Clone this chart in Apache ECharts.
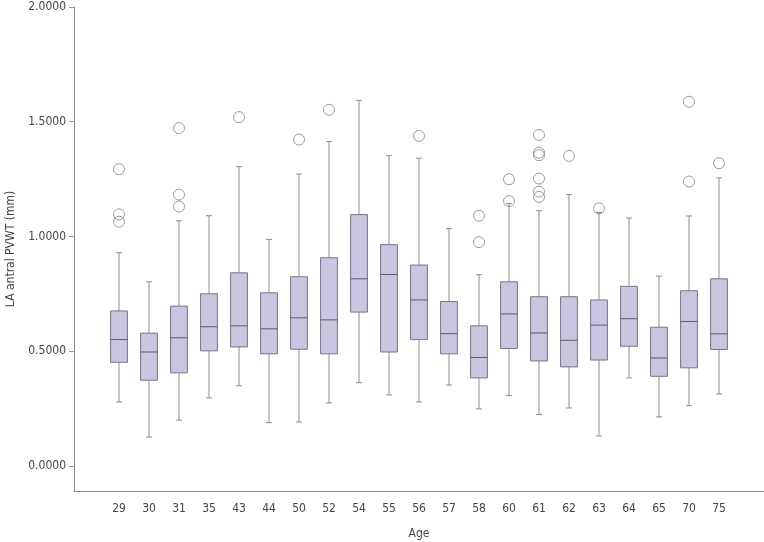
<!DOCTYPE html>
<html>
<head>
<meta charset="utf-8">
<script src="https://cdn.jsdelivr.net/npm/echarts@6/dist/echarts.min.js"></script>
<style>
  html, body { margin: 0; padding: 0; background: #fff; }
  #chart { width: 764px; height: 542px; }
</style>
</head>
<body>
<div id="chart"></div>
<script>
// ages on the x axis
const ages = ['29', '30', '31', '35', '43', '44', '50', '52', '54', '55', '56', '57', '58', '60', '61', '62', '63', '64', '65', '70', '75']
// box stats
const whiskerLow = [0.278, 0.125, 0.199, 0.296, 0.349, 0.188, 0.191, 0.274, 0.362, 0.309, 0.278, 0.352, 0.248, 0.306, 0.223, 0.252, 0.130, 0.383, 0.213, 0.262, 0.313]
const q1 = [0.451, 0.373, 0.405, 0.501, 0.518, 0.488, 0.508, 0.488, 0.670, 0.496, 0.550, 0.488, 0.383, 0.511, 0.457, 0.431, 0.461, 0.521, 0.390, 0.427, 0.507]
const median = [0.550, 0.496, 0.558, 0.606, 0.610, 0.597, 0.645, 0.636, 0.815, 0.834, 0.723, 0.576, 0.472, 0.662, 0.579, 0.547, 0.613, 0.641, 0.470, 0.629, 0.575]
const q3 = [0.675, 0.578, 0.696, 0.750, 0.841, 0.754, 0.824, 0.907, 1.095, 0.964, 0.875, 0.716, 0.610, 0.802, 0.737, 0.737, 0.723, 0.782, 0.604, 0.763, 0.815]
const whiskerHigh = [0.929, 0.802, 1.068, 1.090, 1.304, 0.987, 1.272, 1.413, 1.593, 1.352, 1.341, 1.034, 0.833, 1.143, 1.112, 1.182, 1.104, 1.080, 0.827, 1.089, 1.255]
// outliers per age
const outliers = [
  [1.293, 1.096, 1.064],
  [],
  [1.472, 1.182, 1.130],
  [],
  [1.520],
  [],
  [1.422],
  [1.552],
  [],
  [],
  [1.438],
  [],
  [1.090, 0.975],
  [1.249, 1.154],
  [1.442, 1.365, 1.354, 1.252, 1.195, 1.172],
  [1.351],
  [1.122],
  [],
  [],
  [1.587, 1.239],
  [1.319]
]
const yTicks = [0, 0.5, 1, 1.5, 2]

// pad one empty band on each side so the boxes sit away from the axes
const categories = [''].concat(ages, [''])

const boxData = ages.map((a, i) => [i + 1, whiskerLow[i], q1[i], median[i], q3[i], whiskerHigh[i]])
const outlierData = []
outliers.forEach((list, i) => {
  list.forEach(v => outlierData.push([i + 1, v]))
})

const font = "'Liberation Sans Narrow', 'DejaVu Sans Condensed', 'Liberation Sans', sans-serif"

const chart = echarts.init(document.getElementById('chart'))

chart.setOption({
  backgroundColor: '#fff',
  animation: false,
  grid: {
    left: 74,
    right: 0,
    top: 7,
    bottom: 51,
    containLabel: false,
    outerBoundsMode: 'none'
  },
  xAxis: {
    type: 'category',
    data: categories,
    name: 'Age',
    nameLocation: 'middle',
    nameGap: 37,
    nameTextStyle: { fontFamily: font, fontSize: 12, color: '#444' },
    axisLine: { onZero: false, lineStyle: { color: '#8c8c8c' } },
    axisTick: {
      inside: true,
      length: 5,
      alignWithLabel: true,
      interval: (idx, val) => val !== '',
      lineStyle: { color: '#999' }
    },
    axisLabel: {
      interval: 0,
      margin: 12,
      fontFamily: font,
      fontSize: 12,
      color: '#444'
    },
    splitLine: { show: false }
  },
  yAxis: {
    type: 'value',
    min: -0.11,
    max: 2,
    name: 'LA antral PVWT (mm)',
    nameLocation: 'middle',
    nameRotate: 90,
    nameGap: 53,
    nameTextStyle: { fontFamily: font, fontSize: 12, color: '#444' },
    axisLine: { show: true, lineStyle: { color: '#8c8c8c' } },
    axisTick: {
      show: true,
      length: 5,
      customValues: yTicks,
      lineStyle: { color: '#999' }
    },
    axisLabel: {
      customValues: yTicks,
      margin: 8,
      fontFamily: font,
      fontSize: 12,
      color: '#444',
      formatter: v => v.toFixed(4)
    },
    splitLine: { show: false }
  },
  series: [
    {
      type: 'custom',
      data: boxData,
      encode: { x: 0, y: [1, 2, 3, 4, 5] },
      renderItem: function(params, api) {
        const x = api.value(0)
        const pLow = api.coord([x, api.value(1)])
        const pQ1 = api.coord([x, api.value(2)])
        const pMed = api.coord([x, api.value(3)])
        const pQ3 = api.coord([x, api.value(4)])
        const pHigh = api.coord([x, api.value(5)])
        const half = api.size([1, 0])[0] * 0.28
        const cap = 3
        const cx = pMed[0]
        const whisker = { stroke: '#8e8e8e', lineWidth: 1 }
        return {
          type: 'group',
          children: [
            { type: 'line', shape: { x1: cx, y1: pHigh[1], x2: cx, y2: pQ3[1] }, style: whisker },
            { type: 'line', shape: { x1: cx, y1: pLow[1], x2: cx, y2: pQ1[1] }, style: whisker },
            { type: 'line', shape: { x1: cx - cap, y1: pHigh[1], x2: cx + cap, y2: pHigh[1] }, style: whisker },
            { type: 'line', shape: { x1: cx - cap, y1: pLow[1], x2: cx + cap, y2: pLow[1] }, style: whisker },
            {
              type: 'rect',
              shape: { x: cx - half, y: pQ3[1], width: half * 2, height: pQ1[1] - pQ3[1] },
              style: { fill: '#c8c6e0', stroke: '#777386', lineWidth: 1 }
            },
            {
              type: 'line',
              shape: { x1: cx - half, y1: pMed[1], x2: cx + half, y2: pMed[1] },
              style: { stroke: '#5f5b70', lineWidth: 1 }
            }
          ]
        }
      }
    },
    {
      type: 'scatter',
      data: outlierData,
      symbol: 'circle',
      symbolSize: 11,
      itemStyle: {
        color: 'rgba(255,255,255,0)',
        borderColor: '#858585',
        borderWidth: 1
      }
    }
  ]
})
</script>
</body>
</html>
